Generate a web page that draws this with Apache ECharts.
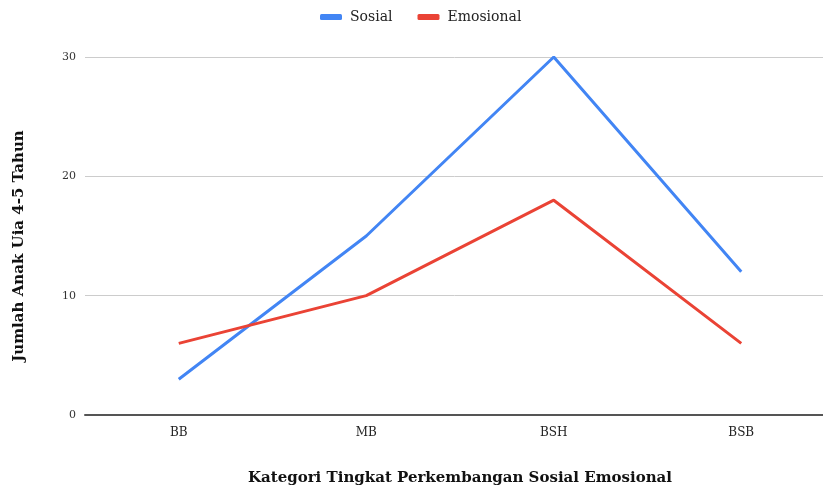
<!DOCTYPE html>
<html><head><meta charset="utf-8">
<script src="https://cdn.jsdelivr.net/npm/echarts@6/dist/echarts.min.js"></script>
<style>html,body{margin:0;padding:0;background:#fff}#c{width:823px;height:488px}</style>
</head><body><div id="c"></div>
<script>
const categories = ["BB", "MB", "BSH", "BSB"];
const sosial = [3, 15, 30, 12];
const emosional = [6, 10, 18, 6];
const yTicks = [0, 10, 20, 30];

const FONT = "DejaVu Serif";
const chart = echarts.init(document.getElementById('c'), null, {renderer: 'canvas'});
chart.setOption({
  animation: false,
  backgroundColor: '#fff',
  legend: {
    top: 5, left: 315,
    icon: 'roundRect', itemWidth: 22, itemHeight: 6, itemGap: 25,
    textStyle: {fontFamily: FONT, fontSize: 14, color: '#222', padding: [0, 0, 0, 3]},
    data: ['Sosial', 'Emosional']
  },
  grid: {left: 85, right: -12, top: 57, bottom: 73, containLabel: false, outerBoundsMode: 'none'},
  xAxis: {
    type: 'category', data: categories, boundaryGap: true,
    name: 'Kategori Tingkat Perkembangan Sosial Emosional',
    nameLocation: 'middle', nameGap: 56,
    nameTextStyle: {fontFamily: FONT, fontWeight: 'bold', fontSize: 15, color: '#111'},
    axisLine: {lineStyle: {color: '#555', width: 2}},
    axisTick: {show: false},
    axisLabel: {fontFamily: FONT, fontSize: 12, color: '#222', margin: 12}
  },
  yAxis: {
    type: 'value', min: yTicks[0], max: yTicks[yTicks.length - 1], interval: 10,
    name: 'Jumlah Anak Uia 4-5 Tahun',
    nameLocation: 'middle', nameGap: 58, nameRotate: 90,
    nameTextStyle: {fontFamily: FONT, fontWeight: 'bold', fontSize: 15, color: '#111', padding: [0, 20, 0, 0]},
    axisLine: {show: false}, axisTick: {show: false},
    splitLine: {lineStyle: {color: '#ccc', width: 1}},
    axisLabel: {fontFamily: FONT, fontSize: 11, color: '#333', margin: 9}
  },
  series: [
    {name: 'Sosial', type: 'line', data: sosial, symbol: 'none',
     itemStyle: {color: '#4285F4'}, lineStyle: {color: '#4285F4', width: 3}},
    {name: 'Emosional', type: 'line', data: emosional, symbol: 'none',
     itemStyle: {color: '#EA4335'}, lineStyle: {color: '#EA4335', width: 3}}
  ]
});
</script></body></html>
